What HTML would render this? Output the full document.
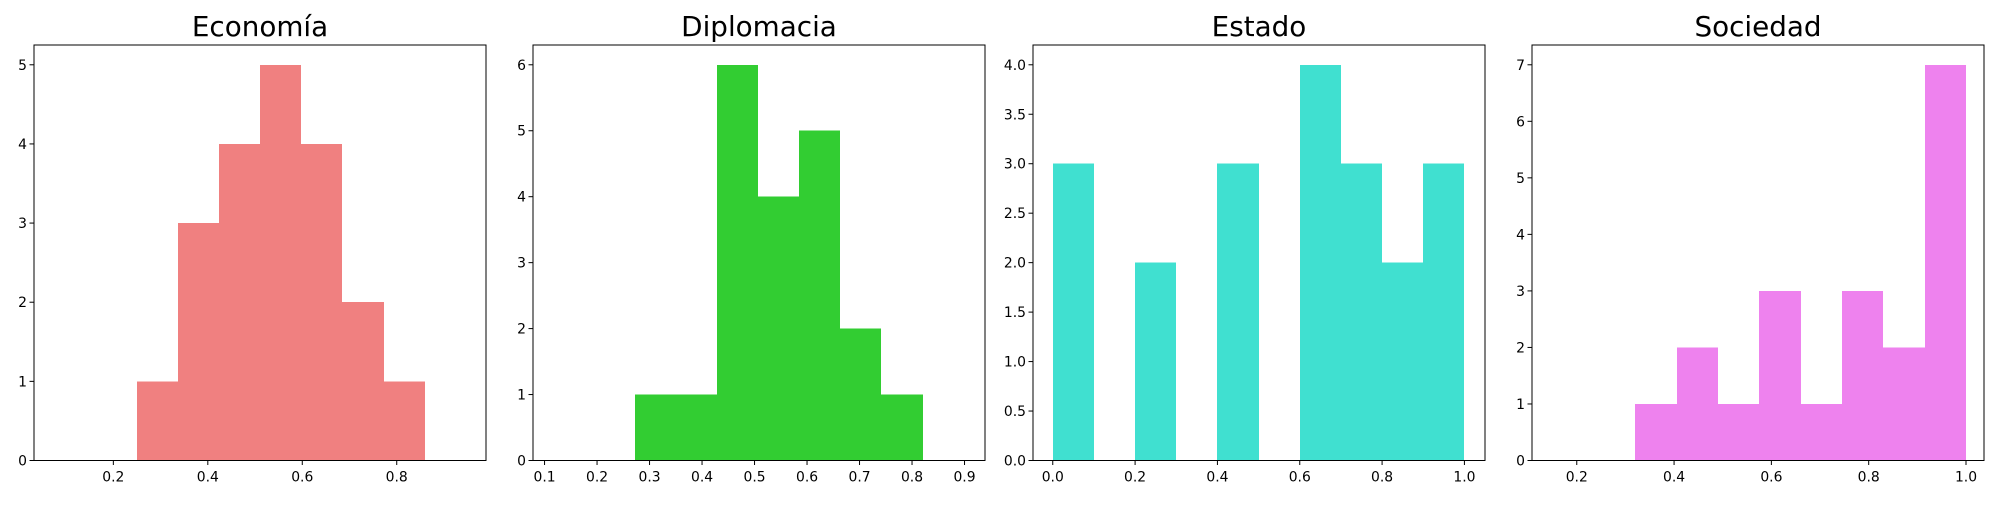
<!DOCTYPE html>
<html><head><meta charset="utf-8"><style>
html,body{margin:0;padding:0;background:#fff;}
svg text{font-family:"DejaVu Sans","Liberation Sans",sans-serif;}
</style></head><body>
<svg id="chart" width="2000" height="500" viewBox="0 0 2000 500" xmlns="http://www.w3.org/2000/svg"></svg>
<script>
const titles = ["Economía","Diplomacia","Estado","Sociedad"];
const colors = ["#F08080","#32CD32","#40E0D0","#EE82EE"];
const countsEconomia = [1,3,4,5,4,2,1];
const countsDiplomacia = [1,1,6,4,5,2,1];
const countsEstado = [3,0,2,0,3,0,4,3,2,3];
const countsSociedad = [1,2,1,3,1,3,2,7];
const binRanges = [[0.25,0.859],[0.272,0.82],[0,1],[0.32,1.0]];
const xLims = [[0.032,0.989],[0.078,0.939],[-0.048,1.05],[0.108,1.037]];
const yLims = [5.25,6.3,4.2,7.35];
const xTicks = [[0.2,0.4,0.6,0.8],[0.1,0.2,0.3,0.4,0.5,0.6,0.7,0.8,0.9],[0,0.2,0.4,0.6,0.8,1.0],[0.2,0.4,0.6,0.8,1.0]];
const yTicks = [[0,1,2,3,4,5],[0,1,2,3,4,5,6],[0,0.5,1,1.5,2,2.5,3,3.5,4],[0,1,2,3,4,5,6,7]];
const allCounts = [countsEconomia,countsDiplomacia,countsEstado,countsSociedad];
const lefts=[34,533,1033,1532], W=452, TOP=45, BOT=460.5;
const svg=document.getElementById('chart');
const NS="http://www.w3.org/2000/svg";
function mk(t,a,p){const e=document.createElementNS(NS,t);for(const k in a)e.setAttribute(k,a[k]);p.appendChild(e);return e;}
titles.forEach((title,i)=>{
  const g=mk('g',{},svg);
  
  
  const L=lefts[i];
  const xs=v=>L+(v-xLims[i][0])/(xLims[i][1]-xLims[i][0])*W;
  const ys=v=>BOT-v/yLims[i]*(BOT-TOP);
  const c=allCounts[i], n=c.length, b0=binRanges[i][0], bw=(binRanges[i][1]-b0)/n;
  c.forEach((v,j)=>{
    if(v<=0)return;
    const x1=Math.round(xs(b0+j*bw)), x2=Math.round(xs(b0+(j+1)*bw));
    const r=mk('rect',{x:x1,y:ys(v),width:x2-x1,height:BOT-ys(v),fill:colors[i],'shape-rendering':'crispEdges'},g);
    
    
  });
  const f=mk('rect',{x:L,y:TOP,width:W,height:BOT-TOP,fill:'none',stroke:'#000','stroke-width':1},g);
  
  
  xTicks[i].forEach(t=>{
    const x=xs(t);
    mk('line',{x1:x,x2:x,y1:BOT,y2:BOT+4.5,stroke:'#000','stroke-width':1},g);
    const tx=mk('text',{x:x,y:BOT+21,'font-size':13.9,'text-anchor':'middle',fill:'#000'},g);
    tx.textContent=t.toFixed(1);
    
    
  });
  yTicks[i].forEach(t=>{
    const y=ys(t);
    mk('line',{x1:L-4.5,x2:L,y1:y,y2:y,stroke:'#000','stroke-width':1},g);
    const tx=mk('text',{x:L-7,y:y+5,'font-size':13.9,'text-anchor':'end',fill:'#000'},g);
    tx.textContent=(i===2)?t.toFixed(1):String(t);
    
    
  });
  const tt=mk('text',{x:L+W/2,y:36,'font-size':27.8,'text-anchor':'middle',fill:'#000'},g);
  tt.textContent=title;
  
  
});
</script>
</body></html>
